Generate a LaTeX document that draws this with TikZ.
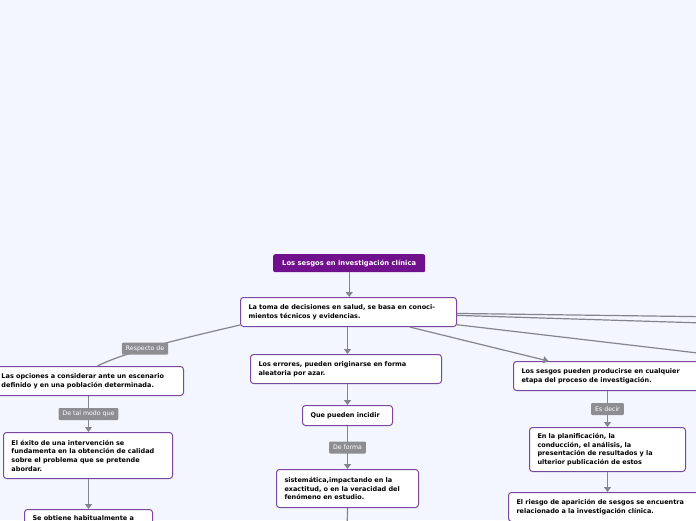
\documentclass[tikz,border=0pt]{standalone}
\usepackage{fontspec}
\setmainfont{DejaVu Sans}
\usepackage{tikz}
\usetikzlibrary{positioning,arrows.meta,calc}
\definecolor{fondo}{RGB}{243,245,255}
\definecolor{morado}{RGB}{112,16,140}
\definecolor{borde}{RGB}{122,72,160}
\definecolor{gris}{RGB}{142,142,146}
\definecolor{linea}{RGB}{132,132,140}
\tikzstyle{tema}=[fill=morado, text=white, rounded corners=2pt, anchor=north west, minimum width=152pt, minimum height=18pt, inner sep=0pt, font=\fontsize{6.8}{8}\selectfont\bfseries]
\tikzstyle{idea}=[draw=borde, fill=white, line width=1pt, rounded corners=3pt, anchor=north west, align=left, inner xsep=8pt, inner ysep=0pt, font=\fontsize{6.5}{8.7}\selectfont\bfseries]
\tikzstyle{nexo}=[fill=gris, text=white, rounded corners=1pt, inner xsep=4pt, inner ysep=0pt, minimum height=12pt, font=\fontsize{6.2}{7}\selectfont]
\tikzstyle{rama}=[draw=linea, line width=1.2pt]
\tikzstyle{flecha}=[-{Triangle[length=5pt,width=7pt]}]

\begin{document}
\begin{tikzpicture}[x=1pt,y=-1pt]
	\useasboundingbox (0,0) rectangle (696,520);
	\fill[fondo] (0,0) rectangle (696,520);
	\clip (0,0) rectangle (696,520);
	% nodos
	\node[tema] (sesgos) at (273,254) {Los sesgos en investigación clínica};
	\node[idea, text width=200pt, minimum height=29pt] (toma) at (240,297) {La toma de decisiones en salud, se basa en conoci-\\mientos técnicos y evidencias.};
	\node[idea, text width=174pt, minimum height=29pt] (opciones) at (-7,366) {Las opciones a considerar ante un escenario\\definido y en una población determinada.};
	\node[idea, text width=153pt, minimum height=46pt] (exito) at (3,432) {El éxito de una intervención se\\fundamenta en la obtención de calidad\\sobre el problema que se pretende\\abordar.};
	\node[idea, text width=112pt, minimum height=18pt] (obtiene) at (24,509) {Se obtiene habitualmente a};
	\node[idea, text width=175pt, minimum height=29pt] (errores) at (250,354) {Los errores, pueden originarse en forma\\aleatoria por azar.};
	\node[idea, text width=74pt, minimum height=20pt] (incidir) at (302,405) {Que pueden incidir};
	\node[idea, text width=126pt, minimum height=38pt] (sistematica) at (276,469) {sistemática,impactando en la\\exactitud, o en la veracidad del\\fenómeno en estudio.};
	\node[idea, text width=176pt, minimum height=29pt] (etapa) at (513,361) {Los sesgos pueden producirse en cualquier\\etapa del proceso de investigación.};
	\node[idea, text width=140pt, minimum height=44pt] (planif) at (529,427) {En la planificación, la\\conducción, el análisis, la\\presentación de resultados y la\\ulterior publicación de estos};
	\node[idea, text width=184pt, minimum height=29pt] (riesgo) at (508,492) {El riesgo de aparición de sesgos se encuentra\\relacionado a la investigación clínica.};
	\coordinate (fueraA) at (800,318);
	\coordinate (fueraB) at (800,326);
	\coordinate (fueraC) at (800,365);
	\coordinate (sigue) at (347,540);
	% conexiones
	\draw[rama,flecha] (sesgos.south) -- (sesgos.south |- toma.north);
	\draw[rama] ($(toma.south west)+(0,-2)$) .. controls (180,339) and (125,352) .. ([xshift=9pt]opciones.north) node[nexo, pos=0.58] (respecto) {Respecto de};
	\draw[rama,flecha] (opciones.south) -- node[nexo] (modo) {De tal modo que} (opciones.south |- exito.north);
	\draw[rama,flecha] (opciones.south |- exito.south) -- (opciones.south |- obtiene.north);
	\draw[rama,flecha] (toma.south -| incidir.north) -- (incidir.north |- errores.north);
	\draw[rama,flecha] (incidir.north |- errores.south) -- (incidir.north);
	\draw[rama,flecha] (incidir.south) -- node[nexo] (forma) {De forma} (incidir.south |- sistematica.north);
	\draw[rama] (incidir.south |- sistematica.south) -- (sigue);
	\draw[rama,flecha] (toma) -- (etapa);
	\draw[rama] (toma) -- (fueraA);
	\draw[rama] (toma) -- (fueraB);
	\draw[rama] (toma) -- (fueraC);
	\draw[rama,flecha] (planif.north |- etapa.south) -- node[nexo] (decir) {Es decir} (planif.north);
	\draw[rama,flecha] (planif.south) -- (planif.south |- riesgo.north);
\end{tikzpicture}
\end{document}
